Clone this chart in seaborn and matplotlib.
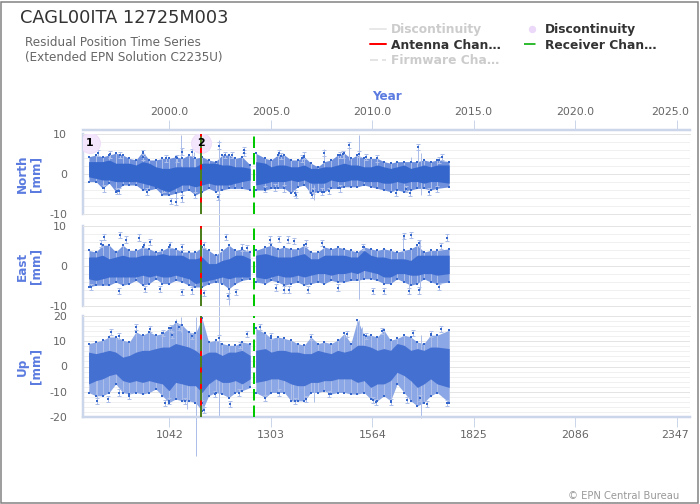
#!/usr/bin/env python3
"""Residual position time series for CAGL00ITA, values read off the picture"""

import matplotlib
matplotlib.use("Agg")
import matplotlib.pyplot as plt
from matplotlib.lines import Line2D
from matplotlib.patches import Rectangle
from matplotlib.ticker import MultipleLocator
from matplotlib.transforms import ScaledTranslation
import seaborn as sns

# columns of the dense cloud: week and the limits of the dark core / pale fringe
WEEKS = [834, 853, 870, 887, 904, 922, 939, 956, 973, 990, 1007, 1024, 1041, 1058, 1075, 1092, 1109, 1126,
         1143, 1161, 1178, 1195, 1212, 1229, 1250, 1264,
         1289, 1304, 1321, 1338, 1355, 1372, 1389, 1406, 1424, 1441, 1458, 1475, 1492, 1509, 1526, 1543, 1560,
         1577, 1594, 1611, 1628, 1646, 1663, 1680, 1697, 1714, 1731, 1762]
GAP_AT = 25  # no solutions between WEEKS[24] and WEEKS[25]

N_CORE_HI = [3.1, 3.1, 3.1, 3.5, 2.7, 2.7, 2.7, 2.25, 3.1, 2.7, 1.8, 1.4, 1.4, 1.8, 1.8, 1.8, 1.8, 2.7,
             2.7, 2.7, 2.25, 2.25, 1.8, 1.8, 1.4, 3.1,
             2.7, 1.8, 2.25, 2.25, 1.8, 1.8, 2.25, 1.4, 1.4, 1.8, 1.8, 2.25, 2.7, 2.25, 2.25, 1.8, 1.8,
             2.25, 1.8, 1.4, 1.8, 2.25, 1.4, 1.8, 2.25, 1.8, 2.25, 2.25]
N_CORE_LO = [-0.7, -1.1, -1.5, -1.5, -1.9, -1.9, -1.9, -1.9, -2.3, -2.75, -3.2, -4, -4.4, -3.6, -2.75, -2.75, -3.2, -2.75,
             -2.3, -2.75, -2.75, -2.75, -2.3, -1.9, -1.5, -2.75,
             -2.3, -1.9, -1.9, -1.9, -1.5, -1.9, -1.5, -2.3, -2.3, -2.3, -1.5, -1.9, -1.9, -1.5, -1.5, -1.9, -1.9,
             -1.9, -2.3, -2.3, -1.9, -2.3, -1.9, -1.9, -2.3, -1.9, -1.9, -2.3]
N_EDGE_HI = [4.3, 4.75, 4.3, 4.75, 5.2, 4.75, 3.9, 3.5, 5.6, 3.5, 3.5, 3.9, 3.9, 4.3, 3.9, 4.75, 3.9, 4.3,
             3.5, 3.1, 4.75, 4.75, 3.9, 4.3, 2.25, 5.2,
             3.9, 3.5, 4.75, 4.75, 3.5, 3.5, 4.3, 2.7, 1.8, 3.1, 3.5, 4.75, 5.2, 3.9, 4.75, 3.9, 3.9,
             3.9, 3.1, 2.7, 3.1, 3.1, 3.1, 3.1, 3.5, 3.1, 3.5, 3.1]
N_EDGE_LO = [-1.9, -1.9, -3.6, -2.3, -4.4, -2.75, -2.75, -2.75, -4, -4, -3.6, -5.25, -5.25, -4.8, -4.4, -4, -5.25, -4.4,
             -3.6, -4.4, -4, -3.6, -3.6, -3.6, -4, -4,
             -4, -3.6, -3.6, -3.6, -4.8, -3.2, -2.75, -4.8, -4.4, -4.4, -3.6, -3.6, -3.2, -3.2, -3.2, -2.75, -3.2,
             -3.6, -4, -4.4, -4, -4.4, -4, -3.6, -3.6, -4, -3.6, -3.2]

E_CORE_HI = [2.25, 2.25, 2.7, 1.8, 2.25, 2.7, 2.25, 2.25, 2.7, 2.7, 2.7, 3.1, 2.7, 2.7, 2.7, 1.8, 1.8, 2.25,
             0.6, 0.6, 1.4, 1.8, 2.7, 2.7, 1.8, 2.7,
             3.1, 2.7, 2.25, 2.25, 2.25, 2.7, 3.1, 1.8, 1.8, 2.7, 2.7, 2.7, 2.7, 2.25, 2.25, 3.9, 2.7,
             2.25, 2.25, 1.8, 1.8, 1.8, 1.4, 2.7, 2.7, 2.7, 2.7, 2.7]
E_CORE_LO = [-3.2, -3.6, -3.2, -2.75, -2.75, -2.75, -2.75, -2.75, -2.3, -2.75, -2.3, -2.75, -2.75, -2.3, -2.75, -3.2, -4.4, -4,
             -3.6, -3.2, -2.75, -3.2, -2.75, -2.75, -2.75, -2.75,
             -3.2, -2.75, -2.3, -2.75, -2.75, -2.3, -2.75, -2.3, -1.9, -1.9, -2.3, -1.9, -1.9, -1.5, -1.9, -1.1, -1.5,
             -1.9, -2.75, -2.75, -1.9, -1.9, -2.3, -2.3, -1.9, -1.9, -2.3, -1.9]
E_EDGE_HI = [3.9, 3.5, 5.2, 5.2, 3.5, 5.2, 3.9, 3.9, 4.75, 4.3, 3.5, 3.9, 4.75, 4.3, 3.5, 3.5, 3.5, 4.75,
             3.9, 2.7, 3.9, 5.2, 3.9, 4.3, 3.5, 3.9,
             4.75, 5.2, 4.3, 4.75, 4.3, 4.3, 5.2, 3.5, 3.5, 4.75, 4.3, 4.75, 4.3, 3.9, 3.5, 4.75, 4.3,
             3.9, 4.3, 3.9, 3.5, 3.9, 4.3, 5.2, 3.5, 3.9, 3.9, 4.3]
E_EDGE_LO = [-5.25, -4.8, -4.8, -4.8, -4, -4.8, -4.4, -3.6, -4.8, -4.4, -3.2, -4.4, -4.4, -3.6, -4, -4.8, -5.25, -5.25,
             -4.4, -4, -4.4, -5.7, -4.4, -3.6, -3.2, -4,
             -4.4, -3.6, -4, -4.8, -4.4, -4, -4.8, -4.4, -4, -4.4, -3.6, -4, -4, -3.6, -3.6, -3.2, -3.2,
             -3.6, -4.4, -4.4, -3.2, -4, -4.8, -4.4, -3.2, -4, -4.4, -4]

U_CORE_HI = [5.7, 5.1, 5.7, 6.4, 5.7, 3.7, 4.4, 5.7, 6.4, 6.4, 7.1, 7.7, 7.7, 9.1, 8.4, 7.7, 6.4, 4.4,
             5.7, 5.7, 4.4, 5.7, 5.7, 6.4, 4.4, 6.4,
             7.1, 5.7, 6.4, 6.4, 5.7, 5.7, 5.1, 5.1, 6.4, 5.7, 5.1, 6.4, 5.7, 6.4, 8.4, 8.4, 7.7,
             6.4, 7.1, 6.4, 9.1, 8.4, 6.4, 7.1, 6.4, 7.7, 7.7, 7.1]
U_CORE_LO = [-6.9, -5.6, -4.9, -3.6, -2.9, -5.6, -6.3, -5.6, -6.3, -5.6, -6.3, -6.9, -9.6, -6.3, -6.9, -7.6, -7.6, -10.3,
             -6.9, -4.9, -6.3, -6.3, -5.6, -6.9, -4.9, -6.3,
             -5.6, -4.9, -4.9, -5.6, -6.9, -7.6, -7.6, -6.3, -6.3, -5.6, -5.6, -4.9, -4.9, -4.9, -6.3, -5.6, -8.3,
             -6.9, -6.9, -5.6, -2.3, -3.6, -5.6, -8.3, -6.9, -4.9, -6.9, -8.3]
U_EDGE_HI = [9.1, 9.7, 10.4, 11.7, 11.7, 10.4, 9.7, 13.7, 12.4, 13.7, 12.4, 13.1, 15.1, 17.7, 16.4, 13.7, 13.1, 19.1,
             9.7, 10.4, 9.1, 8.4, 8.4, 9.7, 9.1, 15.1,
             13.1, 11.1, 11.7, 11.1, 10.4, 9.1, 8.4, 11.7, 9.1, 9.7, 9.1, 10.4, 13.1, 9.1, 18.4, 12.4, 12.4,
             11.7, 14.4, 10.4, 11.1, 12.4, 11.7, 9.7, 9.1, 12.4, 12.4, 14.4]
U_EDGE_LO = [-10.3, -11.6, -11.6, -10.3, -6.9, -10.3, -10.9, -10.3, -10.9, -10.3, -8.9, -11.6, -14.3, -12.9, -13.6, -13.6, -14.3, -17.6,
             -11.6, -10.3, -10.9, -12.3, -10.3, -9.6, -8.3, -10.3,
             -12.3, -10.3, -10.3, -10.3, -13.6, -13.6, -13.6, -10.3, -10.3, -9.6, -10.9, -10.3, -10.3, -10.9, -10.9, -10.3, -12.9,
             -13.6, -11.6, -13.6, -6.9, -10.3, -13.6, -15.6, -14.3, -11.6, -10.3, -14.3]

# single points standing clear of the cloud
N_POINT_WEEK = [859, 890, 915, 975, 975, 1032, 1101, 1075, 1062, 1233, 1233, 1186, 1203, 1169, 1167, 908, 913, 874,
                985, 1047, 1058, 1075, 1109, 1028, 1505, 1682, 1529, 1441, 1488, 1482, 1325, 1330, 1389, 1383, 1547,
                1577, 1408, 1411, 1364, 1368, 1338, 1315, 1289, 1482, 1454, 1434, 1624, 1661, 1650, 1710, 1731, 1744, 1735]
N_POINT_MM = [5.2, 4.9, 4.75, 5.3, 4.3, 3.9, 5.4, 5.6, 3.9, 6, 5.2, 4.75, 4.75, 7.1, -5.7, -4.25, -4.25, -3.6,
              -4.4, -6.7, -6.9, -6.1, -5.25, -3.6, 7.25, 6.8, 5, 5.3, 4.9, 4.75, 5.3, 4.5, 4.6, 3.9, 4.2,
              3.9, -5.25, -4.2, -4.8, -5.25, -3.6, -3.4, -3.8, -3.6, -4.25, -4.4, -4.7, -4.7, -3.8, -4.4, -3.8, 4.3, 3.5]
E_POINT_WEEK = [873, 915, 964, 930, 992, 1043, 1075, 1188, 866, 977, 1130, 1229, 1241, 913, 840, 979, 1019, 1075,
                1101, 1194, 1214, 1130, 1300, 1325, 1348, 1362, 1436, 1394, 1646, 1663, 1757, 1684, 1740, 1539,
                1565, 1594, 1317, 1338, 1351, 1398, 1475, 1658, 1684, 1735]
E_POINT_MM = [7.25, 7.8, 7.1, 6.6, 6, 5.3, 4.75, 7.25, 5.6, 5.2, 5.2, 4.6, 4.5, -6.3, -5.25, -5.7, -5.7, -6.5,
              -6.1, -7.5, -6.5, -6.7, 6.6, 6.8, 6.6, 6.25, 5.75, 5.6, 7.5, 7.7, 7.1, 5.8, 5, 4.75,
              -6.25, -6.25, -5.4, -5.9, -5.9, -5.9, -5.4, -6.3, -6.1, -5.25]
U_POINT_WEEK = [955, 991, 891, 913, 1047, 1066, 1025, 1049, 1101, 1169, 1241, 1224, 1276, 857, 883, 913, 938, 1030,
                1041, 1083, 1130, 1126, 1160, 1199, 1220, 1500, 1590, 1547, 1407, 1740, 1669, 1714, 1304, 1364,
                1394, 1454, 1565, 1573, 1613, 1654, 1688, 1705, 1757, 1325, 1289]
U_POINT_MM = [15.5, 14.8, 13.5, 12.1, 15.1, 15.7, 13.1, 12.4, 12.1, 11.3, 12.7, 8.7, 15.5, -13.6, -12.7, -10.3, -11.6, -14.5,
              -13.6, -13.6, -17.2, -14.3, -10.9, -14.9, -10.3, 12.7, 14.1, 12.1, 11.5, 14.7, 13.1, 12.7, 12.1, -13.6,
              -12.9, -10.9, -13.2, -13.9, -13.9, -13.3, -12.3, -14.9, -14.3, -10.3, -12.3]

# long error bars, they run past the panels
N_BAR_WEEK = [1071, 1058, 1075, 1105, 1109, 1170, 1530, 1415, 1402, 1441, 1505, 1682, 1690, 1663]
N_BAR_LO = [2, -7, -6.3, 0, -5.25, -13, 1, -6.5, -4.7, 1.8, 3.5, 2.7, -5.25, 0.6]
N_BAR_HI = [9.7, -1.5, -1.5, 5.6, -2, 8.5, 9.75, -2.7, -2.3, 6.2, 7.25, 7.4, 5.2, 4.3]
E_BAR_WEEK = [1170, 1196, 1530, 1658, 1688, 1644]
E_BAR_LO = [-12.5, -9.8, -8.2, -6.3, -6.1, 3.5]
E_BAR_HI = [11, -1.5, 0, 1.4, 6.4, 7.5]
U_BAR_WEEK = [1170, 1111, 1071, 1058, 1088, 857, 1530, 1537, 1690, 1415, 1360]
U_BAR_LO = [-20, -35.3, 13.7, 11, -17, -15, 8.4, 8.4, -20.3, -14, -13.6]
U_BAR_HI = [20, 19.7, 19.7, 19, 13.7, -4.2, 18.4, 15.7, 12.4, -6, -6]

ANTENNA_WEEKS = [1123]
RECEIVER_WEEKS = [1123, 1260]
DISC_WEEKS = [838, 1123]
DISC_LABELS = ["1", "2"]
DISC_MM = [7.75, 7.75]

WEEK_TICKS = [1042, 1303, 1564, 1825, 2086, 2347]
YEAR_LABELS = ["2000.0", "2005.0", "2010.0", "2015.0", "2020.0", "2025.0"]
LEGEND_LABELS = ["Discontinuity", "Antenna Chan…", "Firmware Cha…", "Discontinuity", "Receiver Chan…"]

DOT = "#3566cc"
PALE = "#adbfe9"
AXIS = "#ccd6eb"
TITLE_BLUE = "#5b7be0"
TICK = "#666666"
PX = 72 / 100  # points per pixel at dpi 100
LONG_DASH = (0, (5.75, 2.5))

sns.set_theme(style="white")
plt.rcParams["font.family"] = ["DejaVu Sans"]


def panel_axes(fig, top_px, bottom_px):
    return fig.add_axes([83 / 700, 1 - bottom_px / 504, 607 / 700, (bottom_px - top_px) / 504])


def shift_last_label(labels, dx_px):
    # the last label is pulled in so that it stays inside the plot width
    last = labels[-1]
    last.set_transform(last.get_transform() + ScaledTranslation(dx_px / 100, 0, fig.dpi_scale_trans))


def fill_cloud(ax, hi, lo, **style):
    ax.fill_between(WEEKS[:GAP_AT], lo[:GAP_AT], hi[:GAP_AT], linewidth=0, **style)
    ax.fill_between(WEEKS[GAP_AT:], lo[GAP_AT:], hi[GAP_AT:], linewidth=0, **style)


def draw_panel(ax, ylim, major, band, points, bars, err, label, core_color, edge_color):
    core_hi, core_lo, edge_hi, edge_lo = band
    ax.set_xlim(819.7, 2381.7)
    ax.set_ylim(*ylim)
    ax.set_yticks(major)
    ax.set_yticklabels([str(v) for v in major])
    ax.yaxis.set_minor_locator(MultipleLocator(2))
    ax.set_xticks([])
    ax.grid(True, which="major", axis="y", color="#e4e4e4", lw=1 * PX)
    ax.grid(True, which="minor", axis="y", color="#f0f0f0", lw=1 * PX)
    ax.set_axisbelow(True)
    ax.tick_params(axis="y", which="both", length=0, pad=16 * PX, labelsize=11 * PX, labelcolor=TICK)
    for side in ["top", "right", "bottom"]:
        ax.spines[side].set_visible(False)
    ax.spines["left"].set_color(AXIS)
    ax.spines["left"].set_linewidth(2.5 * PX)
    ax.set_ylabel(label, color=TITLE_BLUE, fontweight="bold", fontsize=12 * PX, linespacing=1.05, va="center")
    ax.yaxis.set_label_coords(-54 / 607, 0.5)

    # cloud of the daily solutions: fringe, whiskers to the read limits, dark core
    fill_cloud(ax, edge_hi, edge_lo, color=edge_color, zorder=2)
    fill_cloud(ax, core_hi, core_lo, color=core_color, zorder=3)
    ax.vlines(WEEKS, edge_lo, edge_hi, color=PALE, lw=1 * PX, zorder=2.5)
    sns.scatterplot(x=WEEKS, y=edge_hi, ax=ax, marker="s", s=4, color=DOT, linewidth=0, zorder=3.5)
    sns.scatterplot(x=WEEKS, y=edge_lo, ax=ax, marker="s", s=4, color=DOT, linewidth=0, zorder=3.5)

    bar_week, bar_lo, bar_hi = bars
    ax.vlines(bar_week, bar_lo, bar_hi, color=PALE, lw=1 * PX, zorder=2.5, clip_on=False)

    point_week, point_mm = points
    ax.errorbar(point_week, point_mm, yerr=err, fmt="none", ecolor=PALE, elinewidth=1 * PX,
                capsize=1.2, capthick=1 * PX, zorder=2.5)
    sns.scatterplot(x=point_week, y=point_mm, ax=ax, marker="s", s=4, color=DOT, linewidth=0, zorder=4)

    # discontinuity bubbles sit under the change lines
    ax.axvline(ANTENNA_WEEKS[0], color="#ff0000", lw=2 * PX, zorder=5)
    ax.axvline(RECEIVER_WEEKS[0], color="#4d7f1e", lw=2 * PX, ls=LONG_DASH, zorder=6)
    ax.axvline(RECEIVER_WEEKS[1], color="#00c800", lw=2 * PX, ls=LONG_DASH, zorder=6)


fig = plt.figure(figsize=(7, 5.04), dpi=100, facecolor="white")

ax_n = panel_axes(fig, 134, 214)
ax_e = panel_axes(fig, 226, 306)
ax_u = panel_axes(fig, 316, 417)

draw_panel(ax_n, (-10, 10), [-10, 0, 10], (N_CORE_HI, N_CORE_LO, N_EDGE_HI, N_EDGE_LO),
           (N_POINT_WEEK, N_POINT_MM), (N_BAR_WEEK, N_BAR_LO, N_BAR_HI), 0.8, "North\n[mm]", DOT, "#6f90dd")
draw_panel(ax_e, (-10, 10), [-10, 0, 10], (E_CORE_HI, E_CORE_LO, E_EDGE_HI, E_EDGE_LO),
           (E_POINT_WEEK, E_POINT_MM), (E_BAR_WEEK, E_BAR_LO, E_BAR_HI), 0.8, "East\n[mm]", "#3a6acf", "#7696df")
draw_panel(ax_u, (-20, 20), [-20, -10, 0, 10, 20], (U_CORE_HI, U_CORE_LO, U_EDGE_HI, U_EDGE_LO),
           (U_POINT_WEEK, U_POINT_MM), (U_BAR_WEEK, U_BAR_LO, U_BAR_HI), 1.2, "Up\n[mm]", "#4470d2", "#8ca7e5")

for ax in [ax_n, ax_e]:
    ax.spines["top"].set_visible(True)
    ax.spines["top"].set_color("#e4e4e4")
    ax.spines["top"].set_linewidth(1 * PX)
    ax.spines["bottom"].set_visible(True)
    ax.spines["bottom"].set_color("#e4e4e4")
    ax.spines["bottom"].set_linewidth(1 * PX)
ax_u.spines["top"].set_visible(True)
ax_u.spines["top"].set_color("#e4e4e4")
ax_u.spines["top"].set_linewidth(1 * PX)

# bottom axis, GPS week
ax_u.spines["bottom"].set_visible(True)
ax_u.spines["bottom"].set_color(AXIS)
ax_u.spines["bottom"].set_linewidth(2.5 * PX)
ax_u.set_xticks(WEEK_TICKS)
week_labels = ax_u.set_xticklabels([str(w) for w in WEEK_TICKS])
ax_u.tick_params(axis="x", length=10 * PX, width=1 * PX, color=AXIS, labelsize=11 * PX,
                 labelcolor=TICK, pad=3 * PX, bottom=True)
shift_last_label(week_labels, -1.5)
ax_u.set_xlabel("GPS Week", color=TITLE_BLUE, fontweight="bold", fontsize=12 * PX, va="center")
ax_u.xaxis.set_label_coords(0.5, -34 / 101)

# top axis, years on the same weeks
# the spine has to be moved first, set_position throws the ticks away
ax_year = ax_n.twiny()
for side in ["left", "right", "bottom"]:
    ax_year.spines[side].set_visible(False)
ax_year.spines["top"].set_position(("outward", 4 * PX))
ax_year.spines["top"].set_color(AXIS)
ax_year.spines["top"].set_linewidth(2.5 * PX)
ax_year.set_xlim(ax_n.get_xlim())
ax_year.set_xticks(WEEK_TICKS)
year_labels = ax_year.set_xticklabels(YEAR_LABELS)
ax_year.tick_params(axis="x", length=10 * PX, width=1 * PX, color=AXIS, labelsize=11 * PX,
                    labelcolor=TICK, pad=3 * PX, top=True)
shift_last_label(year_labels, -6)
ax_year.set_xlabel("Year", color=TITLE_BLUE, fontweight="bold", fontsize=12 * PX, va="center")
ax_year.xaxis.set_label_coords(0.5, 118 / 80)

# discontinuities, top panel
sns.scatterplot(x=DISC_WEEKS, y=DISC_MM, ax=ax_n, s=(20 * PX) ** 2, color="#f3e5fb",
                edgecolor="#eedcf9", linewidth=0.6, zorder=2.8)
for week, mm, label in zip(DISC_WEEKS, DISC_MM, DISC_LABELS):
    ax_n.text(week, mm, label, ha="center", va="center", fontsize=11 * PX, fontweight="bold",
              color="black", zorder=7)

# titles
fig.text(20 / 700, 1 - 18 / 504, "CAGL00ITA 12725M003", fontsize=17.75 * PX, color="#333333", va="center")
fig.text(25 / 700, 1 - 42 / 504, "Residual Position Time Series", fontsize=12 * PX, color="#666666", va="center")
fig.text(25 / 700, 1 - 57 / 504, "(Extended EPN Solution C2235U)", fontsize=12 * PX, color="#666666", va="center")
fig.text(679 / 700, 1 - 496 / 504, "© EPN Central Bureau", fontsize=10 * PX, color="#999999", ha="right", va="center")

# legend, the greyed entries are the series switched off in the original
handles = [
    Line2D([], [], color="#e8e8e8", lw=2 * PX),
    Line2D([], [], color="#ff0000", lw=2 * PX),
    Line2D([], [], color="#e4e4e4", lw=2 * PX, ls=(0, (4, 2))),
    Line2D([], [], color="none", marker="o", markersize=6 * PX, markerfacecolor="#ecd9fa", markeredgecolor="#ecd9fa"),
    Line2D([], [], color="#33bb33", lw=2 * PX, ls=LONG_DASH),
]
legend = fig.legend(handles, LEGEND_LABELS, ncol=2, loc="upper left", bbox_to_anchor=(370 / 700, 1 - 23 / 504),
                    frameon=False, prop={"weight": "bold", "size": 12.3 * PX},
                    handlelength=1.3, handletextpad=0.43, columnspacing=1.85, labelspacing=0.21, borderpad=0,
                    borderaxespad=0)
for text, color in zip(legend.get_texts(), ["#cccccc", "#333333", "#cccccc", "#333333", "#333333"]):
    text.set_color(color)

# chart border
fig.add_artist(Rectangle((1 / 700, 1 / 504), 697 / 700, 501 / 504, transform=fig.transFigure, fill=False,
                         edgecolor="#808080", linewidth=1.5 * PX))

fig.savefig("out.png", dpi=100)
